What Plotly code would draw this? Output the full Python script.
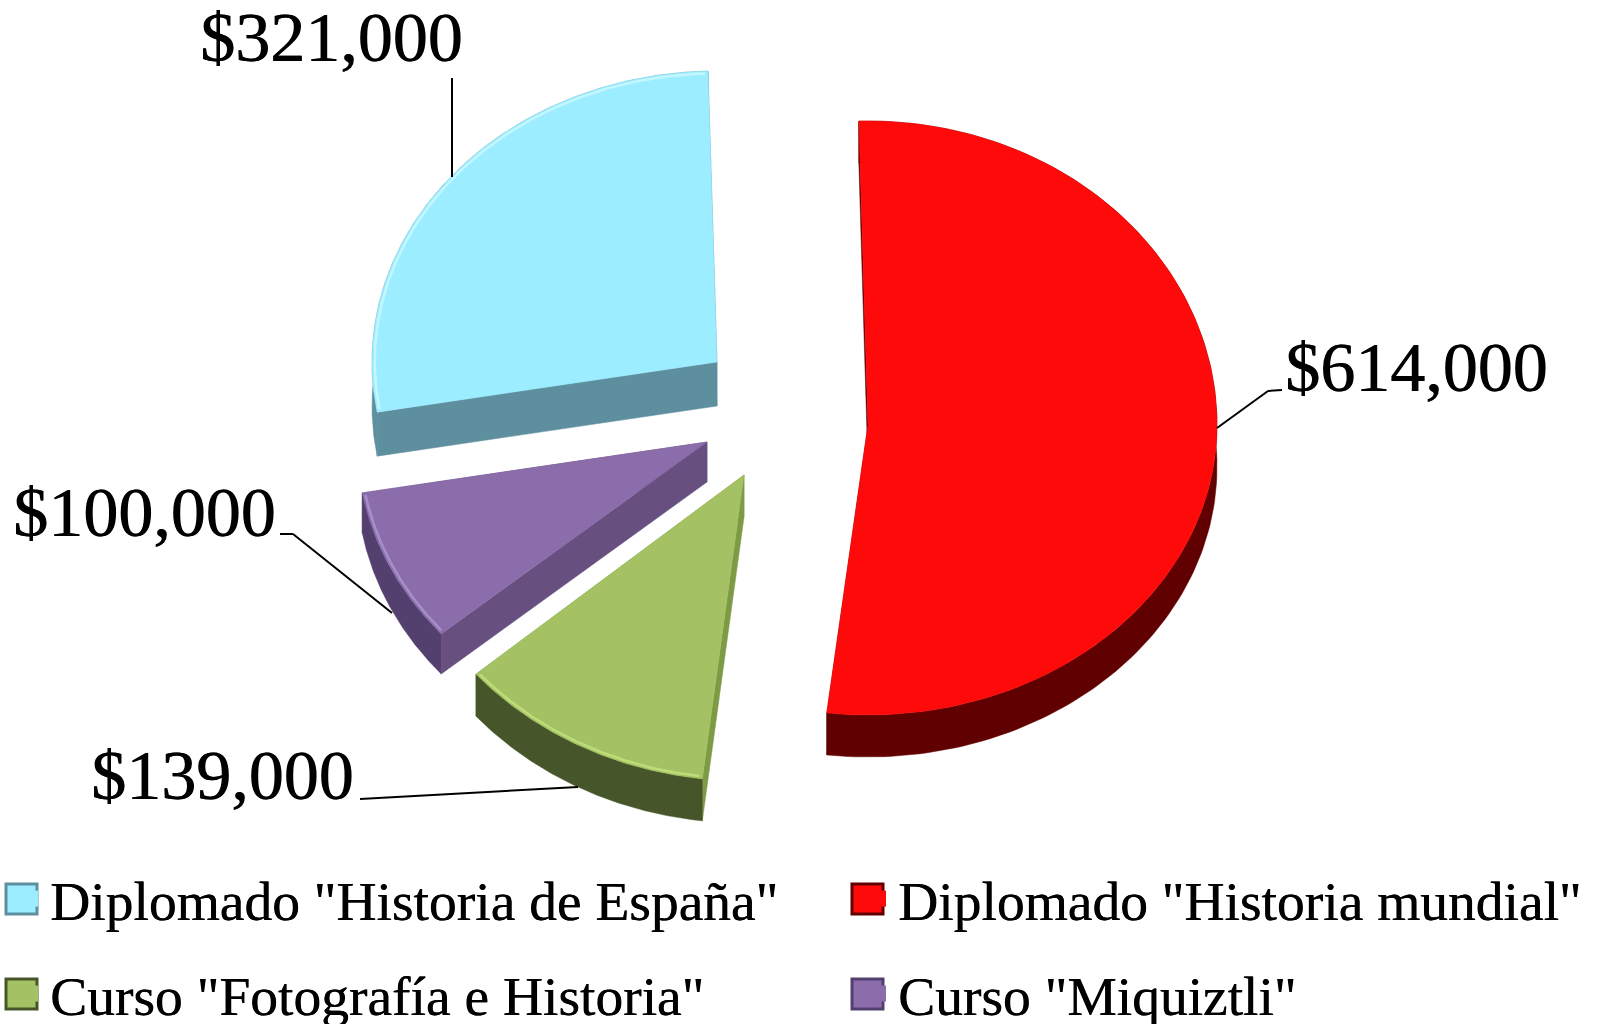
import numpy as np
import plotly.graph_objects as go

categories = ['Diplomado "Historia mundial"', 'Curso "Fotografía e Historia"', 'Curso "Miquiztli"', 'Diplomado "Historia de España"']
values = [614000, 139000, 100000, 321000]

top_colors = ["#ff0a0a", "#a4c263", "#8a6daa", "#9bedff"]
arc_wall_colors = ["#600000", "#46562a", "#54406f", "#5d8f9f"]
side_wall_colors = ["#600000", "#7d9a45", "#67507f", "#5d8f9f"]
rim_colors = ["#ff0a0a", "#bedc78", "#a78fc9", "#c4f6ff"]
centers = [(868, 425), (744, 475), (707, 442), (717, 362)]
rx = [349, 353, 350, 345]
ry_upper = [304, 306, 295, 291]
ry_lower = [290, 306, 295, 291]
depth = [42, 42, 40, 44]
start_angle = -1.5
label_pos = [(1416, 367), (222, 775), (144, 512), (331, 37)]
leaders = [
    [(1217, 428), (1268, 391), (1282, 390)],
    [(578, 787), (360, 799)],
    [(392, 613), (293, 534), (280, 534)],
    [(452, 177), (452, 78)],
]
legend_pos = [(858, 899), (10, 994), (858, 994), (10, 899)]
swatch_left = [852, 6, 852, 6]

W, H = 1600, 1024
TEXT_FONT = "Liberation Serif"
TEXT_SHADOW = "0.8px 0 0 black"
shares = np.array(values) / sum(values) * 360.0
starts = start_angle + np.concatenate([[0], np.cumsum(shares)[:-1]])


def arc(i, a0, a1, scale=1.0):
    t = np.radians(np.linspace(a0, a1, 160))
    cx, cy = centers[i]
    c = np.cos(t)
    ry = np.where(c >= 0, ry_upper[i], ry_lower[i])
    return cx + scale * rx[i] * np.sin(t), cy - scale * ry * c


fig = go.Figure()
for i, name in enumerate(categories):
    cx, cy = centers[i]
    d = depth[i]
    ax, ay = arc(i, starts[i], starts[i] + shares[i])
    # radial side walls
    for ex, ey in ((ax[0], ay[0]), (ax[-1], ay[-1])):
        fig.add_trace(go.Scatter(
            x=[cx, ex, ex, cx, cx], y=[cy, ey, ey + d, cy + d, cy], mode="lines", fill="toself",
            fillcolor=side_wall_colors[i], line=dict(width=0.5, color=side_wall_colors[i]),
            showlegend=False, hoverinfo="skip"))
    # outer curved wall
    fig.add_trace(go.Scatter(
        x=np.r_[ax, ax[::-1], ax[0]], y=np.r_[ay, ay[::-1] + d, ay[0]], mode="lines", fill="toself",
        fillcolor=arc_wall_colors[i], line=dict(width=0.5, color=arc_wall_colors[i]),
        showlegend=False, hoverinfo="skip"))
    # top face
    fig.add_trace(go.Scatter(
        x=np.r_[cx, ax, cx], y=np.r_[cy, ay, cy], mode="lines", fill="toself",
        fillcolor=top_colors[i], line=dict(width=0.5, color=top_colors[i]),
        name=name, showlegend=False, hovertemplate=f"{name}: ${values[i]:,}<extra></extra>"))
    # bevel highlight along the rim
    hx, hy = arc(i, starts[i] + 0.5, starts[i] + shares[i] - 0.5, 0.992)
    fig.add_trace(go.Scatter(x=hx, y=hy, mode="lines", line=dict(width=2.5, color=rim_colors[i]),
                             showlegend=False, hoverinfo="skip"))
    # legend entry
    lg = "legend" if i == 0 else f"legend{i + 1}"
    fig.add_trace(go.Scatter(
        x=[None], y=[None], mode="markers", name=name, legend=lg,
        marker=dict(symbol="square", size=16, color=top_colors[i], line=dict(width=0))))

shapes = []
for pts in leaders:
    for p, q in zip(pts[:-1], pts[1:]):
        shapes.append(dict(type="line", x0=p[0], y0=p[1], x1=q[0], y1=q[1], line=dict(color="black", width=2)))

# bevelled frames round the legend keys
for i, (p, left) in enumerate(zip(legend_pos, swatch_left)):
    shapes.append(dict(type="rect", x0=left, x1=left + 31, y0=p[1] - 15, y1=p[1] + 15,
                       fillcolor=top_colors[i], line=dict(color=arc_wall_colors[i], width=3)))

annotations = [
    dict(x=p[0], y=p[1], text=f"${v:,}", showarrow=False, xanchor="center", yanchor="middle",
         font=dict(family=TEXT_FONT, size=70, color="black", shadow=TEXT_SHADOW))
    for p, v in zip(label_pos, values)
]

layout_legends = {}
for i, p in enumerate(legend_pos):
    key = "legend" if i == 0 else f"legend{i + 1}"
    layout_legends[key] = dict(
        x=p[0] / W, y=1 - p[1] / H, xanchor="left", yanchor="middle",
        bgcolor="rgba(0,0,0,0)", itemsizing="trace", itemwidth=30,
        font=dict(family=TEXT_FONT, size=55.5, color="black", shadow="0.5px 0 0 black"))

fig.update_layout(
    width=W, height=H, margin=dict(l=0, r=0, t=0, b=0, autoexpand=False),
    paper_bgcolor="white", plot_bgcolor="white",
    xaxis=dict(range=[0, W], visible=False, fixedrange=True),
    yaxis=dict(range=[H, 0], visible=False, fixedrange=True),
    shapes=shapes, annotations=annotations, showlegend=True, **layout_legends)

fig.write_html("out.html", post_script="document.body.style.margin='0';",
               config={"displayModeBar": False})
